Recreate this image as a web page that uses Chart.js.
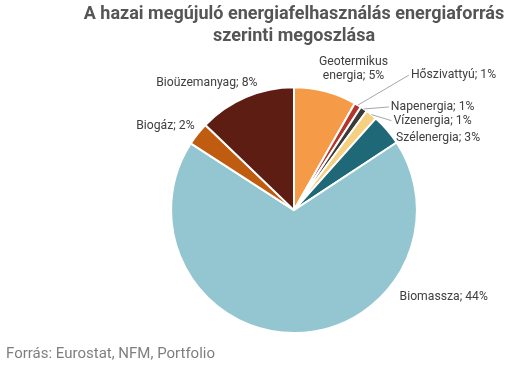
<!DOCTYPE html>
<html>
<head>
<meta charset="utf-8">
<script src="https://cdn.jsdelivr.net/npm/chart.js@4"></script>
<style>
  html, body { margin: 0; padding: 0; background: #fff; }
  #wrap { position: relative; width: 520px; height: 371px; }
  #source { position: absolute; left: 6px; top: 344px; font: 15px Roboto, sans-serif; color: #7f7f7f; }
</style>
</head>
<body>
<div id="wrap">
  <canvas id="pie" width="520" height="371"></canvas>
  <div id="source">Forrás: Eurostat, NFM, Portfolio</div>
</div>
<script>
// categories + values (share, %)
var categories = ["Geotermikus energia", "Hőszivattyú", "Napenergia", "Vízenergia", "Szélenergia", "Biomassza", "Biogáz", "Bioüzemanyag"];
var values = [5.4, 0.6, 0.6, 1.0, 2.7, 44.8, 2.0, 8.4];
var valueLabels = ["5%", "1%", "1%", "1%", "3%", "44%", "2%", "8%"];
var colors = ["#f59b47", "#b5352a", "#3b3b3b", "#f5d080", "#1e6878", "#93c6d0", "#c05c10", "#5e1d13"];

// label placement relative to the slice's outer midpoint: [dx, dy, align, leader line]
var labelPos = [
  [28, -22, "center", false],
  [53, -30, "left", true],
  [27, -2, "left", true],
  [22, 6, "left", true],
  [9, 8, "left", false],
  [105, -36, "left", false],
  [-3, -8, "right", false],
  [-39, -14, "center", false]
];

var sliceLabels = {
  id: "sliceLabels",
  afterDatasetsDraw: function (chart) {
    var ctx = chart.ctx;
    var arcs = chart.getDatasetMeta(0).data;
    ctx.save();
    ctx.font = "12.2px Roboto, sans-serif";
    ctx.textBaseline = "middle";
    arcs.forEach(function (arc, i) {
      var p = arc.getProps(["x", "y", "startAngle", "endAngle", "outerRadius"], true);
      var mid = (p.startAngle + p.endAngle) / 2;
      var ex = p.x + Math.cos(mid) * p.outerRadius;
      var ey = p.y + Math.sin(mid) * p.outerRadius;
      var lp = labelPos[i];
      var lx = ex + lp[0], ly = ey + lp[1];
      if (lp[3]) {
        ctx.strokeStyle = "#a6a6a6";
        ctx.lineWidth = 1;
        ctx.beginPath();
        ctx.moveTo(ex, ey);
        ctx.lineTo(lx - 2, ly);
        ctx.stroke();
      }
      ctx.fillStyle = "#404040";
      ctx.textAlign = lp[2];
      if (i === 0) {
        ctx.fillText("Geotermikus", lx, ly - 7);
        ctx.fillText("energia; " + valueLabels[i], lx, ly + 7);
      } else {
        ctx.fillText(categories[i] + "; " + valueLabels[i], lx, ly);
      }
    });
    ctx.restore();
  }
};

new Chart("pie", {
  type: "pie",
  data: {
    labels: categories,
    datasets: [{
      data: values,
      backgroundColor: colors,
      borderColor: "#ffffff",
      borderWidth: 2
    }]
  },
  options: {
    responsive: false,
    animation: false,
    layout: { padding: { left: 68, right: 0, top: 0, bottom: 37 } },
    plugins: {
      legend: { display: false },
      tooltip: { enabled: false },
      title: {
        display: true,
        text: ["A hazai megújuló energiafelhasználás energiaforrás", "szerinti megoszlása"],
        color: "#555555",
        font: { family: "Roboto", size: 18, weight: "bold", lineHeight: 1.2 },
        padding: { top: 4, bottom: 39 }
      }
    }
  },
  plugins: [sliceLabels]
});
</script>
</body>
</html>
